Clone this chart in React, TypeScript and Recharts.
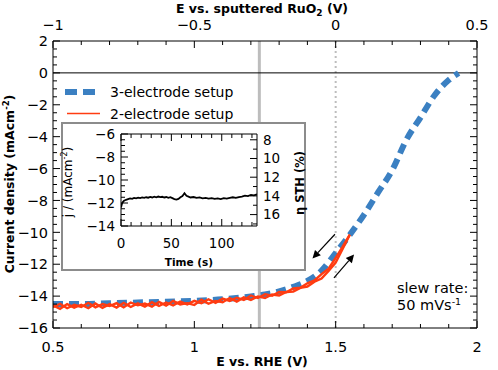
import { LineChart, Line, XAxis, YAxis, ReferenceLine } from "recharts"

// 3-electrode setup (E vs RHE, j)
const threeE = [0.5, 0.6, 0.7, 0.8, 0.9, 1.0, 1.1, 1.2, 1.25, 1.3, 1.35, 1.4, 1.45, 1.5, 1.55, 1.6, 1.65, 1.7, 1.75, 1.8, 1.85, 1.9, 1.935]
const threeJ = [-14.5, -14.5, -14.45, -14.4, -14.35, -14.3, -14.2, -14.02, -13.9, -13.7, -13.42, -13.05, -12.4, -11.3, -10.15, -8.9, -7.5, -6.1, -4.2, -2.8, -1.4, -0.45, 0]

// 2-electrode setup, forward sweep
const twoFwdE = [0.5, 0.525, 0.55, 0.575, 0.6, 0.625, 0.65, 0.675, 0.7, 0.725, 0.75, 0.775, 0.8, 0.825, 0.85, 0.875, 0.9, 0.925, 0.95, 0.975, 1.0, 1.025, 1.05, 1.075, 1.1, 1.125, 1.15, 1.175, 1.2, 1.225, 1.25, 1.275, 1.3, 1.325, 1.35, 1.375, 1.4, 1.425, 1.45, 1.475, 1.5, 1.525, 1.55]
const twoFwdJ = [-14.7, -14.48, -14.76, -14.55, -14.68, -14.42, -14.7, -14.5, -14.62, -14.44, -14.71, -14.4, -14.58, -14.47, -14.66, -14.36, -14.6, -14.3, -14.52, -14.44, -14.56, -14.22, -14.48, -14.3, -14.38, -14.12, -14.34, -14.08, -14.24, -14.02, -14.12, -13.9, -13.96, -13.74, -13.72, -13.48, -13.4, -13.1, -12.9, -12.42, -11.9, -11.02, -10.15]

// 2-electrode setup, backward sweep
const twoBwdE = [1.55, 1.525, 1.5, 1.475, 1.45, 1.425, 1.4, 1.375, 1.35, 1.325, 1.3, 1.275, 1.25, 1.225, 1.2, 1.175, 1.15, 1.125, 1.1, 1.075, 1.05, 1.025, 1.0, 0.975, 0.95, 0.925, 0.9, 0.875, 0.85, 0.825, 0.8, 0.775, 0.75, 0.725, 0.7, 0.675, 0.65, 0.625, 0.6, 0.575, 0.55, 0.525, 0.5]
const twoBwdJ = [-10.15, -10.9, -11.6, -12.28, -12.62, -13.02, -13.2, -13.48, -13.52, -13.76, -13.74, -13.98, -13.88, -14.12, -13.96, -14.24, -14.1, -14.3, -14.16, -14.42, -14.2, -14.44, -14.3, -14.52, -14.34, -14.58, -14.4, -14.62, -14.38, -14.66, -14.46, -14.68, -14.42, -14.72, -14.5, -14.74, -14.46, -14.76, -14.54, -14.72, -14.5, -14.8, -14.58]

// inset: chronoamperometry
const timeS = [0, 1, 2, 3, 5, 7, 9, 11, 13, 15, 17, 19, 21, 23, 25, 27, 29, 31, 33, 35, 37, 39, 41, 43, 45, 47, 49, 51, 53, 55, 57, 59, 61, 63, 65, 67, 69, 72, 75, 78, 81, 84, 87, 90, 93, 96, 99, 102, 105, 108, 111, 114, 117, 120, 123, 126, 129, 132, 135]
const timeJ = [-12.4, -12.05, -11.9, -11.8, -11.72, -11.66, -11.6, -11.64, -11.56, -11.6, -11.54, -11.58, -11.52, -11.56, -11.5, -11.54, -11.47, -11.52, -11.45, -11.5, -11.44, -11.49, -11.46, -11.52, -11.48, -11.55, -11.5, -11.58, -11.66, -11.7, -11.64, -11.5, -11.4, -11.15, -11.38, -11.45, -11.52, -11.48, -11.56, -11.52, -11.6, -11.55, -11.62, -11.57, -11.64, -11.6, -11.66, -11.58, -11.62, -11.55, -11.5, -11.56, -11.48, -11.44, -11.36, -11.4, -11.3, -11.34, -11.25]

// ticks
const rheTicks = [0.5, 0.6, 0.7, 0.8, 0.9, 1, 1.1, 1.2, 1.3, 1.4, 1.5, 1.6, 1.7, 1.8, 1.9, 2]
const rheMajor = [0.5, 1, 1.5, 2]
const ruoShift = -1.5 // E vs. RuO2 = E vs. RHE - 1.5 V
const jTicks = [-16, -15.5, -15, -14.5, -14, -13.5, -13, -12.5, -12, -11.5, -11, -10.5, -10, -9.5, -9, -8.5, -8, -7.5, -7, -6.5, -6, -5.5, -5, -4.5, -4, -3.5, -3, -2.5, -2, -1.5, -1, -0.5, 0, 0.5, 1, 1.5, 2]
const jMajor = [-16, -14, -12, -10, -8, -6, -4, -2, 0, 2]
const tTicks = [0, 10, 20, 30, 40, 50, 60, 70, 80, 90, 100, 110, 120, 130]
const tMajor = [0, 50, 100]
const insetJTicks = [-14, -13.5, -13, -12.5, -12, -11.5, -11, -10.5, -10, -9.5, -9, -8.5, -8, -7.5, -7, -6.5, -6]
const insetJMajor = [-14, -12, -10, -8, -6]
const etaTicks = [8, 9, 10, 11, 12, 13, 14, 15, 16, 17]
const etaMajor = [8, 10, 12, 14, 16]

const FONT = '"DejaVu Sans", sans-serif'
const BLUE = "#3b80c2"
const RED = "#ff3c12"

const toPts = (xs: number[], ys: number[]) => xs.map((x, i) => ({ x, y: ys[i] }))

const fmt = (v: number) => {
  const r = Math.round(v * 100) / 100
  return r < 0 ? "\u2212" + String(-r) : String(r)
}

function FrameTick(props: any) {
  const { x, y, payload, side, majors, label = true, shift = 0, fontSize = 14.5, majorLen = 7, minorLen = 4, gap = 6, base = 24 } = props
  const v = payload?.value
  const isMajor = majors.some((m: number) => Math.abs(m - v) < 1e-6)
  const len = isMajor ? majorLen : minorLen
  const s = fmt(v + shift)
  let line = null
  let text = null
  if (side === "bottom") {
    line = <line x1={x} y1={y} x2={x} y2={y - len} stroke="#000" />
    if (isMajor && label) text = <text x={x} y={y + base} textAnchor="middle">{s}</text>
  } else if (side === "top") {
    line = <line x1={x} y1={y} x2={x} y2={y + len} stroke="#000" />
    if (isMajor && label) text = <text x={x} y={y - base} textAnchor="middle">{s}</text>
  } else if (side === "left") {
    line = <line x1={x} y1={y} x2={x + len} y2={y} stroke="#000" />
    if (isMajor && label) text = <text x={x - gap} y={y} dy="0.36em" textAnchor="end">{s}</text>
  } else {
    line = <line x1={x} y1={y} x2={x - len} y2={y} stroke="#000" />
    if (isMajor && label) text = <text x={x + gap} y={y} dy="0.36em" textAnchor="start">{s}</text>
  }
  return (
    <g fontFamily={FONT} fontSize={fontSize} fill="#000">
      {line}
      {text}
    </g>
  )
}

function Arrow(props: any) {
  const { x1, y1, x2, y2 } = props
  const a = Math.atan2(y2 - y1, x2 - x1)
  const h = 8
  const w = 4
  const bx = x2 - h * Math.cos(a)
  const by = y2 - h * Math.sin(a)
  const p1 = `${x2},${y2}`
  const p2 = `${bx + w * Math.sin(a)},${by - w * Math.cos(a)}`
  const p3 = `${bx - w * Math.sin(a)},${by + w * Math.cos(a)}`
  return (
    <g>
      <line x1={x1} y1={y1} x2={bx} y2={by} stroke="#000" strokeWidth={1.2} />
      <polygon points={`${p1} ${p2} ${p3}`} fill="#000" />
    </g>
  )
}

function MainChart() {
  return (
    <LineChart width={498} height={370} margin={{ top: 0, right: 20, bottom: 0, left: 0 }}>
      <XAxis xAxisId="b" type="number" dataKey="x" domain={[0.5, 2]} allowDataOverflow ticks={rheTicks} interval={0}
        height={42} tickSize={0} tickMargin={0} tickLine={false} axisLine={{ stroke: "#000" }}
        tick={<FrameTick side="bottom" majors={rheMajor} base={24} />} />
      <XAxis xAxisId="t" orientation="top" type="number" dataKey="x" domain={[0.5, 2]} allowDataOverflow ticks={rheTicks} interval={0}
        height={41} tickSize={0} tickMargin={0} tickLine={false} axisLine={{ stroke: "#000" }}
        tick={<FrameTick side="top" majors={rheMajor} shift={ruoShift} base={11} />} />
      <YAxis yAxisId="l" type="number" domain={[-16, 2]} allowDataOverflow ticks={jTicks} interval={0}
        width={53} tickSize={0} tickMargin={0} tickLine={false} axisLine={{ stroke: "#000" }}
        tick={<FrameTick side="left" majors={jMajor} gap={5} />} />
      <YAxis yAxisId="r" orientation="right" type="number" domain={[-16, 2]} allowDataOverflow ticks={jTicks} interval={0}
        width={1} tickSize={0} tickMargin={0} tickLine={false} axisLine={{ stroke: "#000" }}
        tick={<FrameTick side="right" majors={jMajor} label={false} />} />
      <ReferenceLine xAxisId="b" yAxisId="l" x={1.23} stroke="#bdbdbd" strokeWidth={3} />
      <ReferenceLine xAxisId="b" yAxisId="l" x={1.5} stroke="#bdbdbd" strokeWidth={2} strokeDasharray="2 3" />
      <ReferenceLine xAxisId="b" yAxisId="l" y={0} stroke="#000" strokeWidth={1} />
      <Line xAxisId="b" yAxisId="l" data={toPts(threeE, threeJ)} dataKey="y" type="monotone" stroke={BLUE}
        strokeWidth={6} strokeDasharray="10 6" dot={false} isAnimationActive={false} />
      <Line xAxisId="b" yAxisId="l" data={toPts(twoFwdE, twoFwdJ)} dataKey="y" type="linear" stroke={RED}
        strokeWidth={2.4} dot={false} isAnimationActive={false} />
      <Line xAxisId="b" yAxisId="l" data={toPts(twoBwdE, twoBwdJ)} dataKey="y" type="linear" stroke={RED}
        strokeWidth={2.4} dot={false} isAnimationActive={false} />
      <ReferenceLine xAxisId="b" yAxisId="l" segment={[{ x: 1.4975, y: -10.12 }, { x: 1.418, y: -11.64 }]} shape={<Arrow />} />
      <ReferenceLine xAxisId="b" yAxisId="l" segment={[{ x: 1.494, y: -12.86 }, { x: 1.565, y: -11.39 }]} shape={<Arrow />} />
    </LineChart>
  )
}

function InsetChart() {
  return (
    <LineChart width={241} height={145} margin={{ top: 9, right: 0, bottom: 0, left: 0 }}>
      <XAxis xAxisId="b" type="number" dataKey="x" domain={[0, 135]} allowDataOverflow ticks={tTicks} interval={0}
        height={43} tickSize={0} tickMargin={0} tickLine={false} axisLine={{ stroke: "#000" }}
        tick={<FrameTick side="bottom" majors={tMajor} base={22} fontSize={13.5} />} />
      <XAxis xAxisId="t" orientation="top" type="number" dataKey="x" domain={[0, 135]} allowDataOverflow ticks={tTicks} interval={0}
        height={1} tickSize={0} tickMargin={0} tickLine={false} axisLine={{ stroke: "#000" }}
        tick={<FrameTick side="top" majors={tMajor} label={false} />} />
      <YAxis yAxisId="l" type="number" domain={[-14, -6]} allowDataOverflow ticks={insetJTicks} interval={0}
        width={58} tickSize={0} tickMargin={0} tickLine={false} axisLine={{ stroke: "#000" }}
        tick={<FrameTick side="left" majors={insetJMajor} gap={6} fontSize={13.5} />} />
      <YAxis yAxisId="r" orientation="right" type="number" domain={[7.38, 17.22]} reversed allowDataOverflow ticks={etaTicks} interval={0}
        width={47} tickSize={0} tickMargin={0} tickLine={false} axisLine={{ stroke: "#000" }}
        tick={<FrameTick side="right" majors={etaMajor} gap={6} fontSize={13.5} />} />
      <Line xAxisId="b" yAxisId="l" data={toPts(timeS, timeJ)} dataKey="y" type="linear" stroke="#000"
        strokeWidth={1.8} dot={false} isAnimationActive={false} />
    </LineChart>
  )
}

export default function App() {
  return (
    <div style={{ position: "absolute", left: 0, top: 0, width: 498, height: 370, background: "#fff", fontFamily: FONT }}>
      <MainChart />
      <div style={{ position: "absolute", left: 61, top: 122, width: 245, height: 149, border: "2px solid #8c8c8c", boxSizing: "border-box", background: "#fff" }}>
        <InsetChart />
      </div>
      <svg width={498} height={370} style={{ position: "absolute", left: 0, top: 0, pointerEvents: "none" }} fontFamily={FONT}>
        <text x={262} y={13} textAnchor="middle" fontSize={12.5} fontWeight="bold">
          E vs. sputtered RuO<tspan fontSize={9} dy={3}>2</tspan><tspan dy={-3}> (V)</tspan>
        </text>
        <text x={262} y={366} textAnchor="middle" fontSize={12.5} fontWeight="bold">E vs. RHE (V)</text>
        <text transform="translate(14,184) rotate(-90)" textAnchor="middle" fontSize={12.5} fontWeight="bold">
          Current density (mAcm<tspan fontSize={8.5} dy={-5}>-2</tspan><tspan dy={5}>)</tspan>
        </text>
        <line x1={65} y1={92} x2={97} y2={92} stroke={BLUE} strokeWidth={6} strokeDasharray="12 6" />
        <text x={110} y={97} fontSize={14}>3-electrode setup</text>
        <line x1={67} y1={113.5} x2={100} y2={113.5} stroke={RED} strokeWidth={1.5} />
        <text x={110} y={119} fontSize={14}>2-electrode setup</text>
        <text x={189} y={266} textAnchor="middle" fontSize={10.5} fontWeight="bold">Time (s)</text>
        <text transform="translate(72,182) rotate(-90)" textAnchor="middle" fontSize={12}>
          j / (mAcm<tspan fontSize={8} dy={-5}>-2</tspan><tspan dy={5}>)</tspan>
        </text>
        <text transform="translate(304,183) rotate(-90)" textAnchor="middle" fontSize={11.5} fontWeight="bold">η STH (%)</text>
        <text x={397} y={293} fontSize={14.5}>slew rate:</text>
        <text x={397} y={310} fontSize={14.5}>
          50 mVs<tspan fontSize={9.5} dy={-5}>-1</tspan>
        </text>
      </svg>
    </div>
  )
}
